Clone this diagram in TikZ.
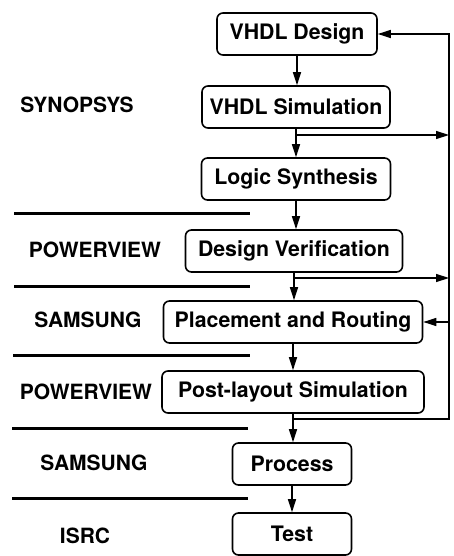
\documentclass[tikz,border=0pt]{standalone}
\usepackage{fontspec}
\setmainfont{TeX Gyre Heros}
\usetikzlibrary{arrows.meta}

\tikzset{
	box/.style={draw, line width=1.6pt, rounded corners=6pt, minimum height=42pt, inner sep=0pt, font=\fontsize{21.3}{24}\selectfont\bfseries},
	tool/.style={font=\fontsize{21}{24}\selectfont\bfseries},
	flow/.style={line width=1.4pt, -{Triangle[length=13pt,width=8pt]}},
	wire/.style={line width=1.4pt},
	sep/.style={line width=3pt}
}

\begin{document}
\begin{tikzpicture}[x=1pt,y=-1pt]
		\useasboundingbox (0,0) rectangle (454,556);

		\draw (297,34) node [box, minimum width=160pt] (des) {VHDL Design};
		\draw (296,107) node [box, minimum width=188pt] (sim) {VHDL Simulation};
		\draw (296,179) node [box, minimum width=189pt] (syn) {Logic Synthesis};
		\draw (294,251) node [box, minimum width=217pt] (ver) {Design Verification};
		\draw (293,322) node [box, minimum width=259pt] (par) {Placement and Routing};
		\draw (293,392) node [box, minimum width=262pt] (post) {Post-layout Simulation};
		\draw (292,464) node [box, minimum width=119pt] (proc) {Process};
		\draw (292,534) node [box, minimum width=119pt] (test) {Test};

		\draw (77,105) node [tool] (synopsys) {SYNOPSYS};
		\draw (95,250) node [tool] (pview1) {POWERVIEW};
		\draw (88,320) node [tool] (samsung1) {SAMSUNG};
		\draw (86,392) node [tool] (pview2) {POWERVIEW};
		\draw (94,463) node [tool] (samsung2) {SAMSUNG};
		\draw (85,536) node [tool] (isrc) {ISRC};

		\draw [sep] (14,213) -- (250,213);
		\draw [sep] (14,286) -- (250,286);
		\draw [sep] (13,355) -- (250,355);
		\draw [sep] (12,428) -- (248,428);
		\draw [sep] (12,498) -- (248,498);

		\coordinate (tap1) at (296,135);
		\coordinate (tap2) at (294,278);
		\coordinate (tap3) at (293,419);
		\coordinate (ret) at (449,419);

		\draw [flow] (des.south) -- (des.south |- sim.north);
		\draw [flow] (sim.south) -- (sim.south |- syn.north);
		\draw [flow] (syn.south) -- (syn.south |- ver.north);
		\draw [flow] (ver.south) -- (ver.south |- par.north);
		\draw [flow] (par.south) -- (par.south |- post.north);
		\draw [flow] (post.south) -- (post.south |- proc.north);
		\draw [flow] (proc.south) -- (proc.south |- test.north);

		\draw [flow] (tap1) -- (tap1 -| ret);
		\draw [flow] (tap2) -- (tap2 -| ret);
		\draw [flow] (par.east -| ret) -- (par.east);
		\draw [flow] (tap3) -- (ret) |- (des.east);
	\end{tikzpicture}
\end{document}
